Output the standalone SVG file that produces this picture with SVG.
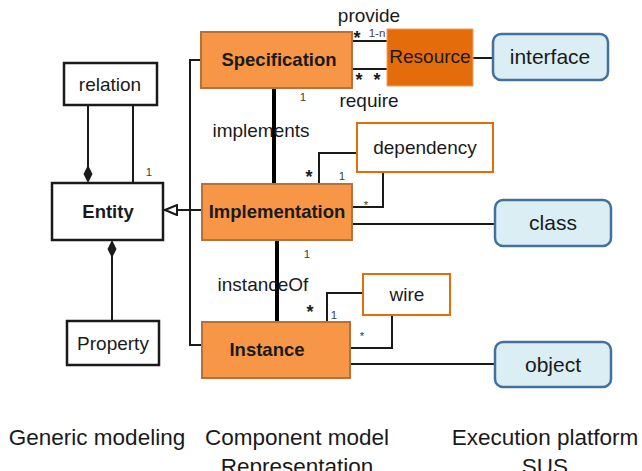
<svg xmlns="http://www.w3.org/2000/svg" width="642" height="471" viewBox="0 0 642 471">
  <defs>
    <style>
      text { font-family: "Liberation Sans", Arial, sans-serif; fill: #1a1a1a; }
      .comp { fill: #F79646; stroke: #B8703A; stroke-width: 2; }
      .res { fill: #E46C0A; stroke: #F0A060; stroke-width: 1; }
      .plat { fill: #DBEEF4; stroke: #41719C; stroke-width: 2.5; }
      .aux { fill: #ffffff; stroke: #E46C0A; stroke-width: 2; }
      .gen { fill: #ffffff; stroke: #1a1a1a; stroke-width: 2.5; }
      .line { fill: none; stroke: #1a1a1a; stroke-width: 2; }
      .thick { fill: none; stroke: #000000; stroke-width: 4; }
      .diamond { fill: #1a1a1a; }
      .bold { font-weight: bold; font-size: 18.5px; text-anchor: middle; }
      .label { font-size: 19px; text-anchor: middle; }
      .plabel { font-size: 21px; text-anchor: middle; }
      .role { font-size: 19px; text-anchor: middle; }
      .mult { font-size: 11.5px; text-anchor: middle; fill: #404040; }
      .star { font-size: 18px; text-anchor: middle; font-weight: bold; }
      .caption { font-size: 22.5px; text-anchor: middle; }
    </style>
    <marker id="inherit" viewBox="0 0 14 12" refX="14" refY="6" markerWidth="14" markerHeight="12" orient="auto" markerUnits="userSpaceOnUse">
      <path d="M1,1 L13,6 L1,11 Z" fill="#ffffff" stroke="#1a1a1a" stroke-width="2"/>
    </marker>
  </defs>

  <!-- connectors -->
  <g id="connectors">
    <!-- relation / entity composition -->
    <line class="line" x1="88" y1="105" x2="88" y2="170"/>
    <path class="diamond" d="M88,165 L92.5,174 L88,183 L83.5,174 Z"/>
    <line class="line" x1="133" y1="105" x2="133" y2="183"/>
    <!-- property / entity composition -->
    <line class="line" x1="112" y1="321" x2="112" y2="255"/>
    <path class="diamond" d="M112,240 L116.5,249 L112,258 L107.5,249 Z"/>
    <!-- generalization to Entity -->
    <line class="line" x1="202" y1="210" x2="164" y2="210" marker-end="url(#inherit)"/>
    <path class="line" d="M206,60 H190 V345 H202"/>
    <!-- specification / resource -->
    <line class="line" x1="352" y1="41" x2="387" y2="41"/>
    <line class="line" x1="352" y1="69" x2="387" y2="69"/>
    <line class="line" x1="473" y1="58" x2="493" y2="58"/>
    <!-- implements / instanceOf -->
    <line class="thick" x1="274" y1="88" x2="274" y2="184"/>
    <line class="thick" x1="277" y1="240" x2="277" y2="322"/>
    <!-- dependency -->
    <path class="line" d="M357,153 H319 V184"/>
    <path class="line" d="M383,172 V207 H352"/>
    <line class="line" x1="352" y1="224" x2="495" y2="224"/>
    <!-- wire -->
    <path class="line" d="M363,293 H327 V322"/>
    <path class="line" d="M392,315 V348 H350"/>
    <line class="line" x1="350" y1="364" x2="495" y2="364"/>
  </g>

  <!-- multiplicities and role names -->
  <g id="connector-labels">
    <text class="role" x="369" y="22">provide</text>
    <text class="role" x="369" y="107">require</text>
    <text class="star" x="357" y="44">*</text>
    <text class="mult" x="377" y="37">1-n</text>
    <text class="star" x="359" y="86">*</text>
    <text class="star" x="377" y="86">*</text>
    <text class="mult" x="303" y="101">1</text>
    <text class="mult" x="149" y="176">1</text>
    <text class="role" x="261" y="137">implements</text>
    <text class="star" x="309" y="183">*</text>
    <text class="mult" x="342" y="180">1</text>
    <text class="mult" x="366" y="209">*</text>
    <text class="mult" x="307" y="258">1</text>
    <text class="role" x="263" y="291">instanceOf</text>
    <text class="star" x="310" y="318">*</text>
    <text class="mult" x="334" y="319">1</text>
    <text class="mult" x="362" y="340">*</text>
  </g>

  <!-- generic modeling -->
  <g id="relation">
    <rect class="gen" x="64" y="63" width="93" height="42"/>
    <text class="label" x="110" y="91">relation</text>
  </g>
  <g id="entity">
    <rect class="gen" x="52" y="183" width="111" height="57"/>
    <text class="bold" x="108" y="218">Entity</text>
  </g>
  <g id="property">
    <rect class="gen" x="67" y="321" width="92" height="44"/>
    <text class="label" x="113" y="350">Property</text>
  </g>

  <!-- component model -->
  <g id="specification">
    <rect class="comp" x="201" y="32" width="151" height="56"/>
    <text class="bold" x="279" y="66">Specification</text>
  </g>
  <g id="resource">
    <rect class="res" x="387" y="29" width="86" height="57"/>
    <text class="label" x="430" y="63">Resource</text>
  </g>
  <g id="implementation">
    <rect class="comp" x="202" y="184" width="150" height="56"/>
    <text class="bold" x="277" y="218">Implementation</text>
  </g>
  <g id="dependency">
    <rect class="aux" x="357" y="123" width="136" height="49"/>
    <text class="label" x="425" y="154">dependency</text>
  </g>
  <g id="instance">
    <rect class="comp" x="202" y="322" width="148" height="56"/>
    <text class="bold" x="267" y="356">Instance</text>
  </g>
  <g id="wire">
    <rect class="aux" x="363" y="274" width="87" height="41"/>
    <text class="label" x="407" y="301">wire</text>
  </g>

  <!-- execution platform -->
  <g id="interface">
    <rect class="plat" x="493" y="34" width="115" height="46" rx="8"/>
    <text class="plabel" x="550" y="64">interface</text>
  </g>
  <g id="class">
    <rect class="plat" x="495" y="200" width="116" height="46" rx="8"/>
    <text class="plabel" x="553" y="230">class</text>
  </g>
  <g id="object">
    <rect class="plat" x="495" y="342" width="116" height="45" rx="8"/>
    <text class="plabel" x="553" y="372">object</text>
  </g>

  <!-- column captions -->
  <g id="captions">
    <text class="caption" x="97" y="445">Generic modeling</text>
    <text class="caption" x="297" y="445">Component model</text>
    <text class="caption" x="297" y="474">Representation</text>
    <text class="caption" x="545" y="445">Execution platform</text>
    <text class="caption" x="545" y="474">SUS</text>
  </g>
</svg>
